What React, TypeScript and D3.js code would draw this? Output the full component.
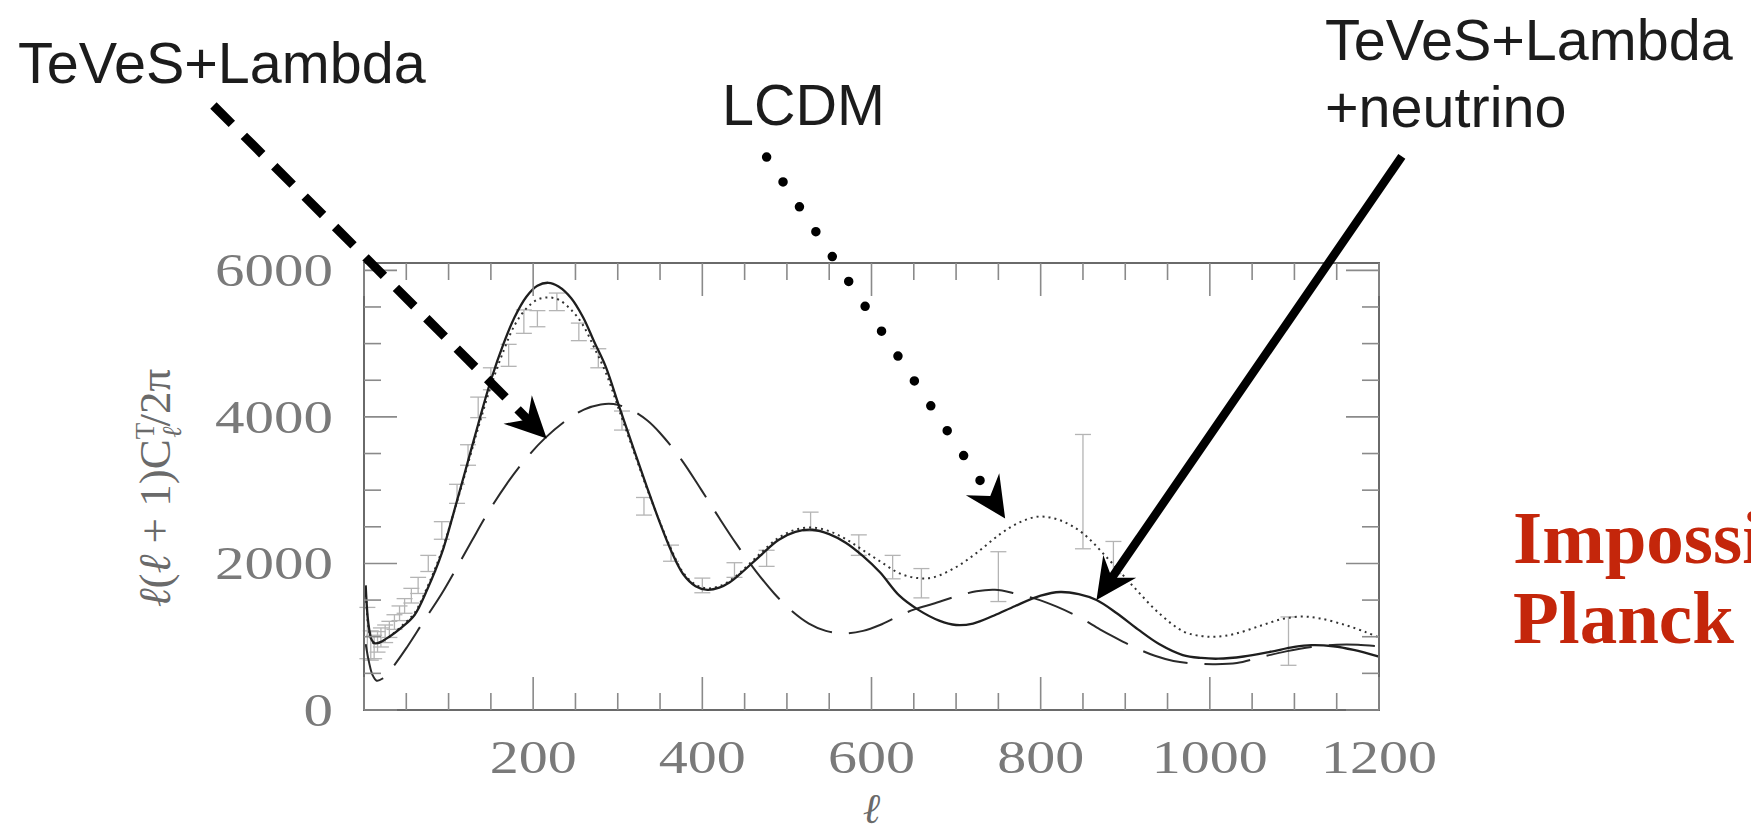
import React from 'react';
import * as d3 from 'd3';

const W = 1751;
const H = 833;

// x: multipole ell, y: l(l+1)C_l/2pi
const xMajorTicks = [200, 400, 600, 800, 1000, 1200];
const yMajorTicks = [0, 2000, 4000, 6000];

// TeVeS+Lambda+neutrino (solid)
const solidL = [2, 5, 9, 13, 20, 30, 45, 60, 75, 92, 105, 119, 135, 150, 165, 178, 192, 205, 218, 230, 245, 259, 272, 286, 302, 318, 334, 350, 364, 377, 392, 406, 420, 432, 445, 468, 490, 510, 530, 550, 570, 590, 610, 633, 655, 680, 700, 720, 745, 770, 800, 823, 845, 866, 890, 915, 940, 968, 990, 1010, 1040, 1070, 1100, 1120, 1146, 1170, 1200];
const solidV = [1700, 1200, 960, 910, 930, 1000, 1130, 1300, 1650, 2140, 2650, 3230, 3900, 4500, 5000, 5360, 5640, 5790, 5830, 5780, 5620, 5360, 5030, 4680, 4130, 3590, 3060, 2550, 2150, 1860, 1690, 1640, 1670, 1740, 1860, 2100, 2320, 2430, 2460, 2400, 2280, 2100, 1880, 1560, 1370, 1220, 1160, 1180, 1290, 1420, 1560, 1610, 1580, 1500, 1320, 1100, 900, 750, 710, 700, 730, 790, 860, 885, 870, 820, 727];

// LCDM (dotted)
const dottedL = [2, 5, 9, 13, 20, 30, 45, 60, 75, 92, 105, 119, 135, 150, 165, 178, 192, 205, 218, 230, 245, 259, 272, 286, 302, 318, 334, 350, 364, 377, 392, 406, 420, 432, 445, 468, 490, 510, 530, 550, 570, 590, 610, 634, 655, 673, 700, 725, 752, 775, 799, 825, 850, 880, 910, 940, 969, 990, 1008, 1030, 1060, 1085, 1107, 1130, 1160, 1185, 1200];
const dottedV = [1650, 1150, 950, 900, 930, 1000, 1150, 1330, 1680, 2170, 2650, 3200, 3850, 4420, 4900, 5250, 5480, 5600, 5630, 5600, 5460, 5250, 4950, 4600, 4080, 3560, 3040, 2560, 2170, 1880, 1710, 1660, 1690, 1760, 1880, 2130, 2350, 2460, 2490, 2440, 2330, 2180, 2030, 1860, 1800, 1810, 1950, 2150, 2400, 2560, 2640, 2580, 2410, 2060, 1680, 1320, 1070, 1010, 1000, 1040, 1150, 1240, 1275, 1250, 1160, 1060, 990];

// TeVeS+Lambda (long dashes)
const dashedL = [2, 6, 10, 15, 22, 35, 51, 70, 92, 110, 128, 148, 169, 190, 214, 240, 260, 280, 295, 315, 335, 350, 375, 399, 420, 440, 463, 485, 505, 526, 546, 567, 590, 610, 630, 650, 673, 700, 724, 746, 770, 799, 819, 845, 870, 886, 910, 935, 957, 980, 1005, 1032, 1060, 1090, 1120, 1150, 1175, 1200];
const dashedV = [900, 650, 480, 400, 430, 600, 860, 1200, 1590, 1950, 2320, 2720, 3090, 3410, 3710, 3960, 4100, 4170, 4175, 4100, 3950, 3780, 3420, 3000, 2620, 2270, 1900, 1590, 1360, 1180, 1080, 1045, 1080, 1160, 1270, 1370, 1450, 1550, 1620, 1640, 1590, 1500, 1410, 1270, 1100, 1000, 860, 740, 670, 636, 625, 640, 720, 800, 860, 890, 890, 870];

// binned data with error bars
const errL = [4, 8, 12, 16, 20, 25, 30, 36, 42, 48, 56, 64, 76, 92, 110, 123, 135, 150, 171, 189, 205, 228, 254, 277, 305, 331, 363, 400, 438, 476, 528, 585, 625, 659, 750, 850, 886, 1093];
const errV = [1050, 880, 860, 930, 990, 1040, 1100, 1200, 1320, 1420, 1560, 1700, 2000, 2450, 2950, 3480, 4130, 4520, 4840, 5300, 5340, 5570, 5160, 4800, 3950, 2780, 2140, 1700, 1910, 2070, 2570, 2250, 1950, 1730, 1820, 2980, 2080, 940];
const errE = [350, 200, 160, 140, 130, 120, 110, 100, 100, 100, 100, 110, 110, 120, 130, 140, 140, 150, 150, 160, 110, 120, 120, 130, 130, 120, 110, 100, 100, 110, 130, 140, 160, 200, 340, 780, 220, 330];

// annotation arrows (data coordinates: start and tip)
const arrowNames = ['TeVeS+Lambda', 'LCDM', 'TeVeS+Lambda+neutrino'];
const arrowStartL = [-178, 476, 1227];
const arrowStartV = [8250, 7545, 7555];
const arrowTipL = [216, 758, 866];
const arrowTipV = [3705, 2614, 1500];

export default function App() {
  const x = d3.scaleLinear().domain([0, 1200]).range([364, 1379]);
  const y = d3.scaleLinear().domain([0, 6100]).range([710, 263]);

  const line = d3
    .line<[number, number]>()
    .x((d) => x(d[0]))
    .y((d) => y(d[1]))
    .curve(d3.curveCatmullRom.alpha(0.5));

  const solidPath = line(solidL.map((l, i) => [l, solidV[i]]) as [number, number][]) || '';
  const dottedPath = line(dottedL.map((l, i) => [l, dottedV[i]]) as [number, number][]) || '';
  const dashedPath = line(dashedL.map((l, i) => [l, dashedV[i]]) as [number, number][]) || '';

  const xTicks = d3.range(0, 1201, 50);
  const yTicks = d3.range(0, 6001, 500);
  const tickColor = '#8a8a8a';
  const x0 = x(0), x1 = x(1200), yb = y(0), yt = y(6100);

  const arrows = arrowNames.map((name, i) => {
    const sx = x(arrowStartL[i]), sy = y(arrowStartV[i]);
    const tx = x(arrowTipL[i]), ty = y(arrowTipV[i]);
    const len = Math.hypot(tx - sx, ty - sy);
    const ux = (tx - sx) / len, uy = (ty - sy) / len;
    const nx = -uy, ny = ux;
    const L = 41, Wd = 20, N = 27;
    const head = [
      [tx, ty],
      [tx - L * ux + Wd * nx, ty - L * uy + Wd * ny],
      [tx - N * ux, ty - N * uy],
      [tx - L * ux - Wd * nx, ty - L * uy - Wd * ny],
    ];
    return { name, sx, sy, tx, ty, ux, uy, N, head };
  });

  const digitFont = "'Liberation Serif', 'DejaVu Serif', serif";

  return (
    <svg
      width={W}
      height={H}
      viewBox={`0 0 ${W} ${H}`}
      style={{ position: 'absolute', left: 0, top: 0, background: '#fff', display: 'block' }}
    >
      <rect x={0} y={0} width={W} height={H} fill="#fff" />

      {/* error bars */}
      <g stroke="#b4b4b4" strokeWidth={1.3} fill="none">
        {errL.map((l, i) => {
          const cx = x(l);
          const ylo = y(errV[i] - errE[i]);
          const yhi = y(errV[i] + errE[i]);
          const cw = 8;
          return (
            <g key={i}>
              <line x1={cx} x2={cx} y1={ylo} y2={yhi} />
              <line x1={cx - cw} x2={cx + cw} y1={ylo} y2={ylo} />
              <line x1={cx - cw} x2={cx + cw} y1={yhi} y2={yhi} />
            </g>
          );
        })}
      </g>

      {/* curves */}
      <path d={dashedPath} fill="none" stroke="#2a2a2a" strokeWidth={2} strokeDasharray="46 17" />
      <path d={dottedPath} fill="none" stroke="#333" strokeWidth={2} strokeDasharray="2 4" />
      <path d={solidPath} fill="none" stroke="#1e1e1e" strokeWidth={2.3} />

      {/* frame */}
      <rect x={x0} y={yt} width={x1 - x0} height={yb - yt} fill="none" stroke="#6a6a6a" strokeWidth={2} />

      {/* ticks */}
      <g stroke={tickColor} strokeWidth={1.6}>
        {xTicks.map((t) => {
          const len = t % 200 === 0 ? 33 : 17;
          return (
            <g key={'x' + t}>
              <line x1={x(t)} x2={x(t)} y1={yb} y2={yb - len} />
              <line x1={x(t)} x2={x(t)} y1={yt} y2={yt + len} />
            </g>
          );
        })}
        {yTicks.map((t) => {
          const len = t % 2000 === 0 ? 33 : 17;
          return (
            <g key={'y' + t}>
              <line x1={x0} x2={x0 + len} y1={y(t)} y2={y(t)} />
              <line x1={x1} x2={x1 - len} y1={y(t)} y2={y(t)} />
            </g>
          );
        })}
      </g>

      {/* tick labels */}
      <g fill="#7a7a7a" fontFamily={digitFont} fontSize={46}>
        {xMajorTicks.map((t) => {
          const s = String(t);
          return (
            <text
              key={'xl' + t}
              x={x(t)}
              y={773}
              textAnchor="middle"
              textLength={s.length * 29}
              lengthAdjust="spacingAndGlyphs"
            >
              {s}
            </text>
          );
        })}
        {yMajorTicks.map((t) => {
          const s = String(t);
          return (
            <text
              key={'yl' + t}
              x={333 - s.length * 29.5}
              y={y(t) + 16}
              textLength={s.length * 29.5}
              lengthAdjust="spacingAndGlyphs"
            >
              {s}
            </text>
          );
        })}
      </g>

      {/* axis titles */}
      <text x={x(600)} y={823} textAnchor="middle" fontFamily={digitFont} fontStyle="italic" fontSize={42} fill="#6a6a6a">
        ℓ
      </text>
      <text
        transform="translate(170,488) rotate(-90)"
        textAnchor="middle"
        fontFamily={digitFont}
        fontSize={45}
        fill="#6a6a6a"
      >
        <tspan fontStyle="italic">ℓ</tspan>
        <tspan>(</tspan>
        <tspan fontStyle="italic">ℓ</tspan>
        <tspan> + 1)C</tspan>
        <tspan fontSize={27} dy={-16}>T</tspan>
        <tspan fontSize={27} fontStyle="italic" dx={-15} dy={27}>ℓ</tspan>
        <tspan dy={-11}>/2π</tspan>
      </text>

      {/* arrows */}
      {arrows.map((a, i) => {
        const endX = a.tx - (a.N + (i === 1 ? 6 : -2)) * a.ux;
        const endY = a.ty - (a.N + (i === 1 ? 6 : -2)) * a.uy;
        const style =
          i === 0
            ? { strokeWidth: 9, strokeDasharray: '26 17', strokeLinecap: 'butt' as const }
            : i === 1
            ? { strokeWidth: 9.5, strokeDasharray: '0 29.8', strokeLinecap: 'round' as const }
            : { strokeWidth: 8.5, strokeLinecap: 'butt' as const };
        return (
          <g key={a.name}>
            <line x1={a.sx} y1={a.sy} x2={endX} y2={endY} stroke="#000" {...style} />
            <polygon points={a.head.map((p) => p.join(',')).join(' ')} fill="#000" />
          </g>
        );
      })}

      {/* annotation labels */}
      <g fontFamily="'Liberation Sans', Arial, Helvetica, sans-serif" fontSize={57.5} fill="#1c1c1c">
        <text x={18} y={83}>TeVeS+Lambda</text>
        <text x={722} y={125}>LCDM</text>
        <text x={1325} y={60}>TeVeS+Lambda</text>
        <text x={1325} y={127}>+neutrino</text>
      </g>

      {/* red commentary (cut by the right edge, as in the reference) */}
      <g fontFamily="'Liberation Serif', 'Times New Roman', serif" fontWeight="bold" fontSize={75} fill="#c4260b">
        <text x={1513} y={563}>Impossible</text>
        <text x={1513} y={643}>Planck results</text>
      </g>
    </svg>
  );
}
